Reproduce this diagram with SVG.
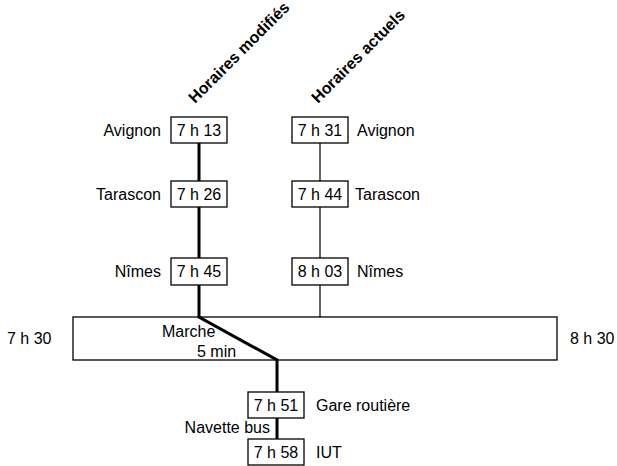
<svg xmlns="http://www.w3.org/2000/svg" width="617" height="466" viewBox="0 0 617 466">
<style>
text{font-family:"Liberation Sans",Arial,Helvetica,sans-serif;font-size:16px;fill:#000}
.c{text-anchor:middle}
.e{text-anchor:end}
.h{font-weight:bold}
.box{fill:#fff;stroke:#000;stroke-width:1.3}
.thick{stroke:#000;stroke-width:3;fill:none}
.thin{stroke:#000;stroke-width:1.2;fill:none}
</style>
<rect width="617" height="466" fill="#fff"/>
<g id="headers">
<text class="h" transform="translate(195,104) rotate(-45)">Horaires modifiés</text>
<text class="h" transform="translate(318,104) rotate(-45)">Horaires actuels</text>
</g>
<g id="zone">
<rect class="box" x="73" y="317" width="484" height="43"/>
<text x="7" y="344">7 h 30</text>
<text x="570" y="344">8 h 30</text>
</g>
<g id="connectors">
<path class="thick" d="M199 143V181M199 207V258M199 285V317L277 360V392M277 418V439"/>
<path class="thin" d="M320 143V181M320 207V258M320 285V317"/>
<text x="162" y="337">Marche</text>
<text x="197" y="357">5 min</text>
<text class="e" x="270" y="433">Navette bus</text>
</g>
<g id="m-avignon"><rect class="box" x="171" y="117" width="56" height="26"/><text class="c" x="199" y="135.7">7 h 13</text><text class="e" x="161" y="135.7">Avignon</text></g>
<g id="m-tarascon"><rect class="box" x="171" y="181" width="56" height="26"/><text class="c" x="199" y="199.7">7 h 26</text><text class="e" x="161" y="199.7">Tarascon</text></g>
<g id="m-nimes"><rect class="box" x="171" y="258" width="56" height="27"/><text class="c" x="199" y="277.2">7 h 45</text><text class="e" x="161" y="277.2">Nîmes</text></g>
<g id="a-avignon"><rect class="box" x="292" y="117" width="56" height="26"/><text class="c" x="320" y="135.7">7 h 31</text><text x="357" y="135.7">Avignon</text></g>
<g id="a-tarascon"><rect class="box" x="292" y="181" width="56" height="26"/><text class="c" x="320" y="199.7">7 h 44</text><text x="355" y="199.7">Tarascon</text></g>
<g id="a-nimes"><rect class="box" x="292" y="258" width="56" height="27"/><text class="c" x="320" y="277.2">8 h 03</text><text x="357" y="277.2">Nîmes</text></g>
<g id="gare"><rect class="box" x="248" y="392" width="56" height="26"/><text class="c" x="276" y="410.7">7 h 51</text><text x="316" y="410.7">Gare routière</text></g>
<g id="iut"><rect class="box" x="248" y="439" width="56" height="26"/><text class="c" x="276" y="457.7">7 h 58</text><text x="316" y="457.7">IUT</text></g>
</svg>
